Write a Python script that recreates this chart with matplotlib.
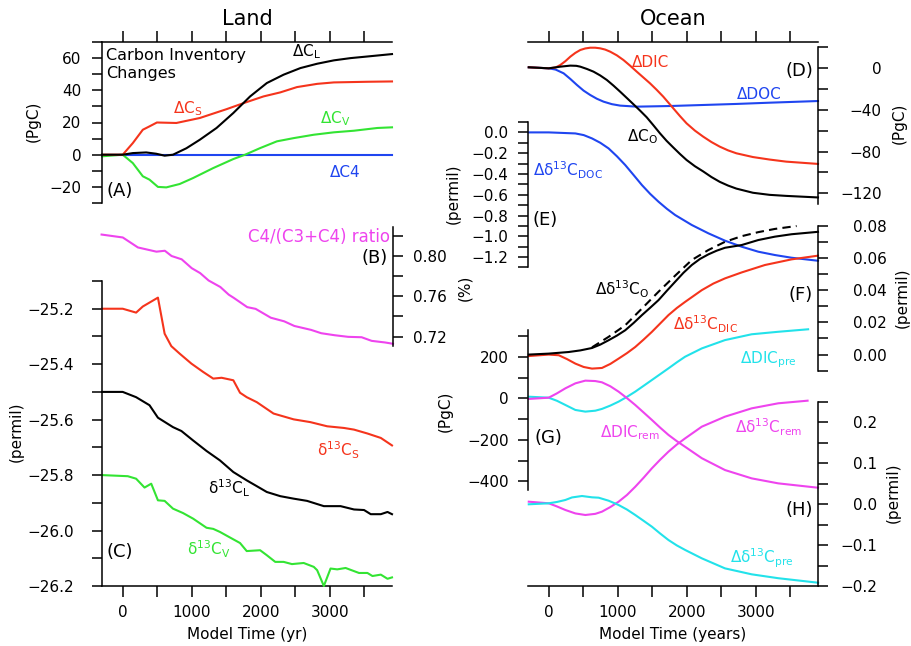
import numpy as np
import matplotlib
matplotlib.use('Agg')
import matplotlib.pyplot as plt
from matplotlib.ticker import MultipleLocator, FuncFormatter

# ---- data ---------------------------------------------------------------
# Land (A): carbon inventory changes (PgC)
t_cs = [-300, 0, 146, 291, 388, 495, 777, 1117, 1505, 1748, 2039, 2282, 2524, 2816, 3058, 3544, 3900]
d_cs = [0, 0, 7.2, 15.5, 17.6, 20, 19.7, 22.8, 28.3, 32, 36.2, 38.7, 42, 44, 44.9, 45.3, 45.5]
t_cl = [-300, 0, 146, 340, 485, 607, 728, 922, 1117, 1359, 1602, 1845, 2087, 2330, 2573, 2816, 3058, 3301, 3544, 3900]
d_cl = [0, 0, 1, 1.4, 0.6, -0.6, 0, 4, 9.3, 16.6, 25.9, 36.2, 44.5, 49.7, 53.8, 56.5, 58.6, 60, 61, 62.5]
t_cv = [-300, 0, 146, 291, 388, 510, 631, 825, 1019, 1311, 1602, 1772, 1990, 2233, 2476, 2767, 3058, 3350, 3689, 3900]
d_cv = [-1, 0, -5.2, -13.4, -15.5, -20, -20.3, -18.2, -14.5, -8.3, -2.7, 0, 4.1, 8.3, 10.3, 12.4, 13.9, 14.9, 16.6, 17]
t_c4 = [-300, 3900]
d_c4 = [0, 0]

# Land (B): C4/(C3+C4) ratio
t_ratio = [-306, 0, 218, 485, 607, 704, 850, 995, 1117, 1238, 1408, 1529, 1602, 1796, 1917, 2136,
           2330, 2476, 2718, 2864, 3058, 3252, 3447, 3592, 3786, 3900]
ratio = [0.8213, 0.8184, 0.8085, 0.8043, 0.8052, 0.80, 0.7967, 0.7879, 0.783, 0.7757, 0.7692, 0.7616,
         0.7584, 0.7492, 0.7475, 0.7387, 0.7351, 0.7305, 0.7266, 0.7233, 0.7213, 0.7197, 0.7193,
         0.7157, 0.7141, 0.7128]

# Land (C): d13C of soil, land, vegetation (permil)
t_d13cs = [-300, 0, 194, 291, 510, 607, 704, 825, 995, 1165, 1311, 1432, 1602, 1699, 1796, 1942,
           2184, 2476, 2718, 2961, 3204, 3350, 3544, 3738, 3900]
d13cs = [-25.2, -25.2, -25.214, -25.192, -25.16, -25.29, -25.335, -25.362, -25.398, -25.428, -25.452,
         -25.449, -25.458, -25.503, -25.519, -25.537, -25.578, -25.599, -25.609, -25.624, -25.63,
         -25.636, -25.65, -25.666, -25.693]
t_d13cl = [-300, 0, 194, 388, 510, 728, 850, 1019, 1214, 1408, 1602, 1796, 1942, 2087, 2282, 2476,
           2670, 2913, 3155, 3350, 3495, 3592, 3738, 3835, 3900]
d13cl = [-25.5, -25.5, -25.519, -25.548, -25.593, -25.627, -25.641, -25.675, -25.713, -25.747, -25.789,
         -25.819, -25.84, -25.861, -25.876, -25.885, -25.893, -25.912, -25.912, -25.924, -25.926,
         -25.941, -25.941, -25.933, -25.941]
t_d13cv = [-300, 73, 194, 316, 413, 510, 607, 728, 874, 1019, 1214, 1311, 1408, 1553, 1699, 1796,
           1990, 2087, 2209, 2330, 2451, 2621, 2767, 2816, 2913, 3010, 3107, 3228, 3422, 3544, 3617,
           3738, 3835, 3900]
d13cv = [-25.8, -25.804, -25.813, -25.845, -25.831, -25.891, -25.893, -25.921, -25.937, -25.957, -25.99,
         -25.994, -26.005, -26.025, -26.045, -26.074, -26.071, -26.089, -26.113, -26.113, -26.121,
         -26.117, -26.131, -26.143, -26.2, -26.137, -26.14, -26.135, -26.153, -26.153, -26.164,
         -26.159, -26.174, -26.169]

# Ocean (D): inventory changes (PgC)
t_dic = [-289, 0, 100, 168, 240, 313, 385, 457, 530, 601, 673, 746, 818, 890, 986, 1082, 1178, 1275,
         1371, 1467, 1563, 1659, 1804, 1900, 1996, 2117, 2237, 2357, 2477, 2598, 2718, 2958, 3199, 3439, 3900]
d_dic = [1, 0, 0.8, 3.2, 6.8, 11.2, 14.8, 17.6, 19.1, 19.8, 19.8, 19.2, 18, 16, 12.5, 8, 2.6, -3.2,
         -8.8, -14.4, -20.6, -27.2, -38.4, -45.8, -52.8, -59.8, -65.6, -70.8, -75.2, -78.8, -81.6,
         -85.2, -87.6, -89.6, -91.8]
t_co = [-289, 0, 168, 313, 400, 457, 553, 649, 745, 842, 938, 1034, 1130, 1227, 1323, 1419, 1515,
        1611, 1707, 1804, 1900, 1996, 2117, 2237, 2357, 2477, 2598, 2718, 2958, 3199, 3439, 3900]
d_co = [1, 0, 1.6, 2.6, 2.4, 1.6, -0.6, -3.2, -6.8, -11.2, -16.6, -22.4, -28.4, -34.5, -40.6, -47,
        -54.6, -62.4, -69.6, -76, -82.2, -88, -94, -99, -104.4, -109, -112.6, -115.5, -119.5, -121.5,
        -122.5, -124]
t_doc = [-289, 0, 100, 216, 313, 409, 505, 601, 697, 794, 914, 1034, 1275, 1756, 2237, 2718, 3199, 3900]
d_doc = [1, 0, -1.2, -4.8, -10.2, -16, -21.4, -25.6, -29.2, -32, -34.4, -35.8, -36.8, -36.2, -35.2,
         -34.2, -33, -31.4]

# Ocean (E): d13C of DOC (permil)
t_d13doc = [-289, 0, 386, 507, 627, 747, 867, 988, 1108, 1229, 1350, 1470, 1590, 1711, 1831, 2072,
            2312, 2553, 2795, 3035, 3276, 3517, 3900]
d13doc = [0, 0, -0.01, -0.026, -0.058, -0.1, -0.154, -0.23, -0.314, -0.41, -0.507, -0.592, -0.667,
          -0.735, -0.795, -0.891, -0.971, -1.042, -1.1, -1.148, -1.18, -1.206, -1.235]

# Ocean (F): d13C of ocean carbon and DIC (permil)
t_d13co = [-289, 0, 289, 458, 627, 747, 867, 988, 1108, 1229, 1350, 1470, 1590, 1711, 1831, 1952,
           2072, 2192, 2312, 2433, 2553, 2795, 3035, 3276, 3517, 3900]
d13co = [0, 0.0006, 0.0016, 0.0026, 0.0041, 0.0062, 0.0089, 0.0118, 0.0151, 0.0196, 0.0245, 0.0291,
         0.0338, 0.0396, 0.0452, 0.0508, 0.0556, 0.0594, 0.0622, 0.0645, 0.0663, 0.068, 0.0711,
         0.0732, 0.0747, 0.0762]
t_d13co_b = [627, 867, 1108, 1350, 1590, 1831, 2072, 2312, 2553, 2795, 3035, 3276, 3590]
d13co_b = [0.0045, 0.011, 0.0182, 0.0286, 0.039, 0.049, 0.0587, 0.0649, 0.070, 0.0735, 0.076, 0.078, 0.0798]
t_d13cdic = [-289, 0, 145, 265, 386, 507, 627, 771, 892, 1012, 1133, 1253, 1374, 1494, 1614, 1734,
             1855, 1975, 2217, 2385, 2553, 2795, 3131, 3517, 3900]
d13cdic = [-0.0009, 0, -0.0004, -0.0028, -0.0056, -0.0077, -0.0087, -0.0083, -0.0058, -0.0025,
           0.0009, 0.0047, 0.0093, 0.0141, 0.0193, 0.0245, 0.0289, 0.0327, 0.04, 0.0441, 0.0473,
           0.051, 0.0556, 0.0591, 0.0614]

# Ocean (G): preformed / remineralized DIC (PgC)
t_dicpre = [-289, 0, 120, 241, 386, 530, 675, 771, 892, 1012, 1133, 1253, 1374, 1494, 1614, 1734,
            1855, 1975, 2217, 2553, 2939, 3324, 3757]
d_dicpre = [7.7, 3, -12, -32, -56, -64, -59.5, -51, -35, -16, 7, 32, 60, 88, 116, 144, 173, 200,
            240, 280, 308, 320, 332]
t_dicrem = [-289, 0, 120, 241, 386, 530, 675, 771, 892, 1012, 1133, 1253, 1374, 1494, 1614, 1734,
            1855, 1975, 2217, 2553, 2939, 3324, 3900]
d_dicrem = [-3, 3, 24, 48, 72, 85, 83, 77, 58, 32, 1, -32, -68, -104, -141, -176, -206, -233, -288,
            -345, -385, -409, -430]

# Ocean (H): d13C of preformed / remineralized (permil)
t_d13crem = [-289, 0, 120, 241, 386, 530, 675, 771, 892, 1012, 1133, 1253, 1374, 1494, 1614, 1734,
             1855, 1975, 2217, 2553, 2939, 3324, 3749]
d13crem = [0.0056, 0.0017, -0.006, -0.0146, -0.023, -0.0268, -0.024, -0.0187, -0.0075, 0.0056,
           0.022, 0.042, 0.064, 0.087, 0.108, 0.1276, 0.145, 0.160, 0.1886, 0.213, 0.2333, 0.2456, 0.252]
t_d13cpre = [-289, 0, 120, 241, 337, 482, 627, 723, 868, 1012, 1133, 1253, 1374, 1494, 1614, 1734,
             1855, 1975, 2217, 2553, 2939, 3324, 3902]
d13cpre = [-0.0007, 0.0017, 0.005, 0.0098, 0.016, 0.0195, 0.0163, 0.0154, 0.008, -0.0024, -0.0135,
           -0.0268, -0.041, -0.0553, -0.072, -0.0878, -0.101, -0.112, -0.1325, -0.157, -0.1715,
           -0.181, -0.192]

xticks = [0, 500, 1000, 1500, 2000, 2500, 3000, 3500]
xticklabels = ['0', '', '1000', '', '2000', '', '3000', '']

# ---- style --------------------------------------------------------------
plt.rcParams['font.family'] = 'DejaVu Sans'
plt.rcParams['mathtext.default'] = 'regular'

RED = '#f5341c'
GREEN = '#33e433'
BLUE = '#1f45f0'
MAGENTA = '#ee44ee'
CYAN = '#22e2ea'
LW = 1.5
LW_AX = 1.1
TICKLEN = 7.5
FS = 11
XMIN, XMAX = -300, 3900

W, H = 912, 646
fig = plt.figure(figsize=(W / 100, H / 100), dpi=100)


def box(x0, y0, x1, y1):
    # pixel box (origin top-left) -> figure rect
    return [x0 / W, 1 - y1 / H, (x1 - x0) / W, (y1 - y0) / H]


def put(x, y, s, **kw):
    kw.setdefault('fontsize', FS)
    kw.setdefault('va', 'baseline')
    return fig.text(x / W, 1 - y / H, s, **kw)


def num_fmt(fmt):
    def f(v, pos):
        if abs(v) < 1e-9:
            v = 0.0
        return (fmt % v).replace('-', '\u2212')
    return FuncFormatter(f)


def frame(x0, x1, xlabel, title, title_x):
    ax = fig.add_axes(box(x0, 42, x1, 586))
    ax.patch.set_visible(False)
    ax.spines['left'].set_visible(False)
    ax.spines['right'].set_visible(False)
    for s in ('top', 'bottom'):
        ax.spines[s].set_linewidth(LW_AX)
    ax.yaxis.set_visible(False)
    ax.set_xlim(XMIN, XMAX)
    ax.set_xticks(xticks)
    ax.set_xticklabels(xticklabels)
    ax.xaxis.set_ticks_position('both')
    ax.tick_params(axis='x', direction='out', length=8, width=LW_AX, labelsize=FS, pad=6)
    put(title_x, 19, title, fontsize=15, ha='center', va='center')
    put(title_x, 635, xlabel, ha='center', va='center')
    return ax


def panel(rect, ylim, major, minor, side, pad, fmt):
    ax = fig.add_axes(box(*rect))
    ax.patch.set_visible(False)
    for s in ax.spines.values():
        s.set_visible(False)
    ax.spines[side].set_visible(True)
    ax.spines[side].set_linewidth(LW_AX)
    ax.xaxis.set_visible(False)
    ax.set_xlim(XMIN, XMAX)
    ax.set_ylim(*ylim)
    ax.yaxis.set_ticks_position(side)
    ax.yaxis.set_major_locator(MultipleLocator(major))
    ax.yaxis.set_minor_locator(MultipleLocator(minor))
    ax.yaxis.set_major_formatter(num_fmt(fmt))
    ax.tick_params(axis='y', which='both', direction='out', length=TICKLEN, width=LW_AX,
                   labelsize=FS, pad=pad)
    if side == 'right':
        for t in ax.yaxis.get_major_ticks():
            t.label2.set_horizontalalignment('right')
    return ax


def line(ax, t, y, c, **kw):
    ax.plot(t, y, color=c, lw=LW, clip_on=False, **kw)


def ylab(x, y, s):
    put(x, y, s, rotation=90, ha='center', va='center')


# ---- Land column --------------------------------------------------------
frame(102, 392, 'Model Time (yr)', 'Land', 247)

axA = panel((102, 42, 392, 203), (-30, 70), 20, 10, 'left', 7.2, '%d')
line(axA, t_c4, d_c4, BLUE)
line(axA, t_cv, d_cv, GREEN)
line(axA, t_cs, d_cs, RED)
line(axA, t_cl, d_cl, 'black')
ylab(33, 121, '(PgC)')
put(106, 60, 'Carbon Inventory', fontsize=11.5)
put(106, 78, 'Changes', fontsize=11.5)
put(292, 56, r'$\Delta C_{L}$', color='black')
put(173, 113, r'$\Delta C_{S}$', color=RED)
put(320, 123, r'$\Delta C_{V}$', color=GREEN)
put(330, 177, '\u0394C4', color=BLUE)
put(107, 196, '(A)', fontsize=13)

axB = panel((102, 227, 393, 346), (0.7106, 0.8288), 0.04, 0.02, 'right', 31.3, '%.2f')
line(axB, t_ratio, ratio, MAGENTA)
ylab(465, 288, '(%)')
put(390, 242, 'C4/(C3+C4) ratio', color=MAGENTA, ha='right', fontsize=12)
put(388, 263, '(B)', fontsize=13, ha='right')

axC = panel((102, 281, 392, 586), (-26.2, -25.1), 0.2, 0.1, 'left', 13, '%.1f')
line(axC, t_d13cs, d13cs, RED)
line(axC, t_d13cl, d13cl, 'black')
line(axC, t_d13cv, d13cv, GREEN)
ylab(16, 432, '(permil)')
put(317, 456, r'$\delta^{13}C_{S}$', color=RED)
put(208, 494, r'$\delta^{13}C_{L}$', color='black')
put(187, 555, r'$\delta^{13}C_{V}$', color=GREEN)
put(107, 557, '(C)', fontsize=13)

# ---- Ocean column -------------------------------------------------------
frame(528, 818, 'Model Time (years)', 'Ocean', 673)

axD = panel((528, 47.5, 818, 203.7), (-130, 20), 40, 20, 'right', 38.5, '%d')
line(axD, t_doc, d_doc, BLUE)
line(axD, t_dic, d_dic, RED)
line(axD, t_co, d_co, 'black')
ylab(899, 123, '(PgC)')
put(632, 67, '\u0394DIC', color=RED)
put(813, 76, '(D)', fontsize=13, ha='right')
put(737, 99, '\u0394DOC', color=BLUE)
put(627, 141, r'$\Delta C_{O}$', color='black')

axE = panel((528, 122, 818, 267.5), (-1.3, 0.1), 0.2, 0.1, 'left', 6.5, '%.1f')
line(axE, t_d13doc, d13doc, BLUE)
ylab(453, 194, '(permil)')
put(533, 176, r'$\Delta\delta^{13}C_{DOC}$', color=BLUE)
put(532, 225, '(E)', fontsize=13)

axF = panel((528, 225.7, 818, 370.7), (-0.01, 0.08), 0.02, 0.01, 'right', 42, '%.2f')
line(axF, t_d13cdic, d13cdic, RED)
line(axF, t_d13co_b, d13co_b, 'black', ls=(0, (4, 2.5)))
line(axF, t_d13co, d13co, 'black')
ylab(902, 298, '(permil)')
put(595, 295, r'$\Delta\delta^{13}C_{O}$', color='black')
put(813, 300, '(F)', fontsize=13, ha='right')
put(673, 330, r'$\Delta\delta^{13}C_{DIC}$', color=RED)

axG = panel((528, 329.7, 818, 489.8), (-440, 330), 200, 100, 'left', 6.5, '%d')
line(axG, t_dicpre, d_dicpre, CYAN)
line(axG, t_dicrem, d_dicrem, MAGENTA)
ylab(445, 411, '(PgC)')
put(740, 363, r'$\Delta DIC_{pre}$', color=CYAN)
put(535, 443, '(G)', fontsize=13)
put(600, 437, r'$\Delta DIC_{rem}$', color=MAGENTA)

axH = panel((528, 401.5, 818, 586), (-0.2, 0.25), 0.1, 0.05, 'right', 35, '%.1f')
line(axH, t_d13crem, d13crem, MAGENTA)
line(axH, t_d13cpre, d13cpre, CYAN)
ylab(893, 493, '(permil)')
put(735, 433, r'$\Delta\delta^{13}C_{rem}$', color=MAGENTA)
put(813, 515, '(H)', fontsize=13, ha='right')
put(730, 563, r'$\Delta\delta^{13}C_{pre}$', color=CYAN)

fig.savefig('out.png', dpi=100)
